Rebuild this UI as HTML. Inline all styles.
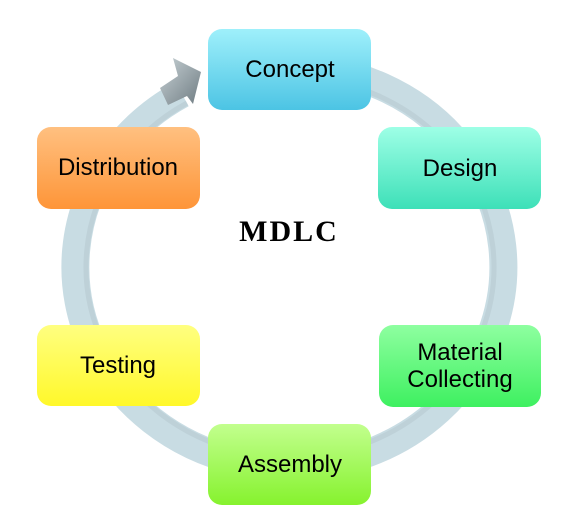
<!DOCTYPE html>
<html><head><style>
html,body{margin:0;padding:0;background:#fff;}
svg{display:block;}
.s{font-family:"Liberation Sans",sans-serif;}
.m{font-family:"Liberation Serif",serif;font-weight:bold;}
</style></head><body>
<svg width="587" height="529" viewBox="0 0 587 529">
<defs>
<linearGradient id="c" x1="0" y1="0" x2="0" y2="1"><stop offset="0" stop-color="#9ff0fb"/><stop offset="1" stop-color="#4cc4e4"/></linearGradient>
<linearGradient id="d" x1="0" y1="0" x2="0" y2="1"><stop offset="0" stop-color="#9effe6"/><stop offset="1" stop-color="#3de0b8"/></linearGradient>
<linearGradient id="m" x1="0" y1="0" x2="0" y2="1"><stop offset="0" stop-color="#8effa0"/><stop offset="1" stop-color="#3ef060"/></linearGradient>
<linearGradient id="a" x1="0" y1="0" x2="0" y2="1"><stop offset="0" stop-color="#c2ff8e"/><stop offset="1" stop-color="#86f22e"/></linearGradient>
<linearGradient id="t" x1="0" y1="0" x2="0" y2="1"><stop offset="0" stop-color="#ffff80"/><stop offset="1" stop-color="#fff82a"/></linearGradient>
<linearGradient id="o" x1="0" y1="0" x2="0" y2="1"><stop offset="0" stop-color="#ffc080"/><stop offset="1" stop-color="#fe9538"/></linearGradient>
<linearGradient id="ah" x1="0" y1="0" x2="1" y2="1"><stop offset="0" stop-color="#c8d2d6"/><stop offset="1" stop-color="#6f7c82"/></linearGradient>
</defs>
<path d="M289 67 A214 200 0 1 1 182 94" fill="none" stroke="#c8dce3" stroke-width="28"/>
<path d="M289 77 A204 190 0 1 1 187 103" fill="none" stroke="#b3c6cd" stroke-width="5" opacity="0.5"/>
<polygon points="173,58 201,72 193,104 187,96 168,105 160,88 178,76" fill="url(#ah)"/>
<rect x="208" y="29" width="163" height="81" rx="14" fill="url(#c)"/>
<rect x="378" y="127" width="163" height="82" rx="14" fill="url(#d)"/>
<rect x="379" y="325" width="162" height="82" rx="14" fill="url(#m)"/>
<rect x="208" y="424" width="163" height="81" rx="14" fill="url(#a)"/>
<rect x="37" y="325" width="163" height="81" rx="14" fill="url(#t)"/>
<rect x="37" y="127" width="163" height="82" rx="14" fill="url(#o)"/>
<g class="s" font-size="24" text-anchor="middle" fill="#000">
<text x="290" y="77">Concept</text>
<text x="460" y="176">Design</text>
<text x="460" y="360">Material</text>
<text x="460" y="387">Collecting</text>
<text x="290" y="472">Assembly</text>
<text x="118" y="373">Testing</text>
<text x="118" y="175">Distribution</text>
</g>
<text class="m" x="289" y="241" text-anchor="middle" font-size="30" letter-spacing="2">MDLC</text>
</svg>
</body></html>
